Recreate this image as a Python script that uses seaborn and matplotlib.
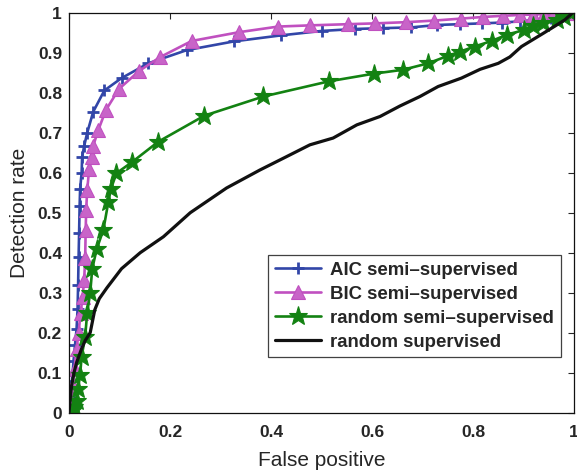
import pandas as pd
import matplotlib
matplotlib.use("Agg")
import matplotlib.pyplot as plt
import seaborn as sns

# ROC curves
aic_fp = [0, 0.003, 0.006, 0.009, 0.012, 0.015, 0.017, 0.018, 0.019, 0.020, 0.021, 0.022,
          0.025, 0.026, 0.030, 0.036, 0.048, 0.070, 0.104, 0.157, 0.233, 0.327, 0.42, 0.50,
          0.566, 0.621, 0.678, 0.729, 0.774, 0.817, 0.857, 0.893, 0.925, 0.955, 0.98, 1.0]
aic_dr = [0, 0.04, 0.08, 0.13, 0.17, 0.21, 0.26, 0.32, 0.39, 0.45, 0.516, 0.56,
          0.60, 0.64, 0.667, 0.70, 0.753, 0.806, 0.837, 0.874, 0.907, 0.929, 0.944, 0.955,
          0.96, 0.962, 0.964, 0.97, 0.972, 0.974, 0.976, 0.979, 0.983, 0.988, 0.994, 1.0]

bic_fp = [0, 0.004, 0.007, 0.011, 0.015, 0.019, 0.023, 0.027, 0.030, 0.032, 0.033, 0.034,
          0.036, 0.040, 0.045, 0.048, 0.058, 0.073, 0.099, 0.139, 0.181, 0.243, 0.337, 0.414,
          0.477, 0.553, 0.606, 0.667, 0.723, 0.777, 0.819, 0.859, 0.893, 0.918, 0.94, 0.958,
          0.975, 0.99, 1.0]
bic_dr = [0, 0.03, 0.07, 0.11, 0.16, 0.20, 0.25, 0.29, 0.332, 0.387, 0.457, 0.507,
          0.557, 0.61, 0.64, 0.668, 0.707, 0.757, 0.81, 0.855, 0.89, 0.93, 0.952, 0.966,
          0.969, 0.972, 0.974, 0.977, 0.981, 0.986, 0.99, 0.993, 0.995, 0.996, 0.997, 0.998,
          0.999, 1.0, 1.0]

rnd_fp = [0, 0.005, 0.010, 0.015, 0.018, 0.022, 0.025, 0.032, 0.036, 0.042, 0.046, 0.055,
          0.068, 0.078, 0.083, 0.094, 0.125, 0.177, 0.268, 0.385, 0.515, 0.603, 0.662, 0.711,
          0.751, 0.774, 0.803, 0.837, 0.868, 0.900, 0.918, 0.939, 0.966, 0.981, 0.995]
rnd_dr = [0, 0.005, 0.015, 0.03, 0.06, 0.095, 0.14, 0.19, 0.25, 0.30, 0.36, 0.41,
          0.457, 0.528, 0.56, 0.599, 0.627, 0.678, 0.743, 0.791, 0.829, 0.848, 0.858, 0.874,
          0.893, 0.903, 0.916, 0.93, 0.946, 0.957, 0.967, 0.974, 0.982, 0.991, 1.0]

sup_fp = [0, 0.002, 0.005, 0.01, 0.015, 0.025, 0.032, 0.042, 0.051, 0.06, 0.075, 0.104,
          0.141, 0.187, 0.24, 0.283, 0.312, 0.378, 0.43, 0.477, 0.523, 0.57, 0.616, 0.655,
          0.695, 0.731, 0.777, 0.814, 0.85, 0.873, 0.896, 0.939, 0.962, 0.982, 0.997]
sup_dr = [0, 0.03, 0.066, 0.1, 0.125, 0.16, 0.18, 0.2, 0.257, 0.285, 0.312, 0.36,
          0.40, 0.44, 0.50, 0.537, 0.562, 0.607, 0.64, 0.67, 0.687, 0.72, 0.741, 0.767,
          0.791, 0.816, 0.837, 0.859, 0.874, 0.89, 0.916, 0.949, 0.967, 0.983, 1.0]

x_ticks = [0, 0.2, 0.4, 0.6, 0.8, 1]
y_ticks = [0, 0.1, 0.2, 0.3, 0.4, 0.5, 0.6, 0.7, 0.8, 0.9, 1]
x_labels = ["0", "0.2", "0.4", "0.6", "0.8", "1"]
y_labels = ["0", "0.1", "0.2", "0.3", "0.4", "0.5", "0.6", "0.7", "0.8", "0.9", "1"]

sns.set_style("white")
plt.rcParams['font.family'] = ['Liberation Sans', 'DejaVu Sans']

fig = plt.figure(figsize=(5.77, 4.74), dpi=100)
ax = fig.add_axes([0.1196, 0.1297, 0.8752, 0.8429])

series = [
    ("AIC semi–supervised", aic_fp, aic_dr, "#3246a8", "+", 9, None),
    ("BIC semi–supervised", bic_fp, bic_dr, "#c050c0", "^", 10.5, "#c864c8"),
    ("random semi–supervised", rnd_fp, rnd_dr, "#138212", "*", 14, "#138212"),
    ("random supervised", sup_fp, sup_dr, "#111111", None, 0, None),
]

for name, xs, ys, col, mk, ms, fc in series:
    df = pd.DataFrame({"fp": xs, "dr": ys})
    kw = {}
    if mk is not None:
        kw = dict(marker=mk, markersize=ms, markeredgecolor=col,
                  markerfacecolor=fc if fc else col, markeredgewidth=2 if mk == "+" else 0.8)
    sns.lineplot(data=df, x="fp", y="dr", ax=ax, color=col, sort=False, estimator=None,
                 linewidth=2.3 if mk is None else 1.9, label=name, **kw)

ax.set_xlim(0, 1)
ax.set_ylim(0, 1)
ax.set_xticks(x_ticks)
ax.set_xticklabels(x_labels)
ax.set_yticks(y_ticks)
ax.set_yticklabels(y_labels)
ax.tick_params(direction="in", top=True, right=True, length=4, width=0.8,
               labelsize=12.5)
ax.tick_params(axis="x", pad=9)
ax.tick_params(axis="y", pad=5)
for lab in ax.get_xticklabels() + ax.get_yticklabels():
    lab.set_fontweight("bold")
for sp in ax.spines.values():
    sp.set_color("#111111")
    sp.set_linewidth(0.9)

ax.set_xlabel("False positive", fontsize=15, labelpad=8)
ax.set_ylabel("Detection rate", fontsize=15, labelpad=6)

leg = ax.legend(loc="lower right", bbox_to_anchor=(0.974, 0.138), frameon=True, fancybox=False,
                handlelength=2.5, borderpad=0.35, labelspacing=0.38, handletextpad=0.5,
                borderaxespad=0, prop={"weight": "bold", "size": 13.4})
leg.get_frame().set_edgecolor("#111111")
leg.get_frame().set_linewidth(0.9)

fig.savefig("out.png", dpi=100)
